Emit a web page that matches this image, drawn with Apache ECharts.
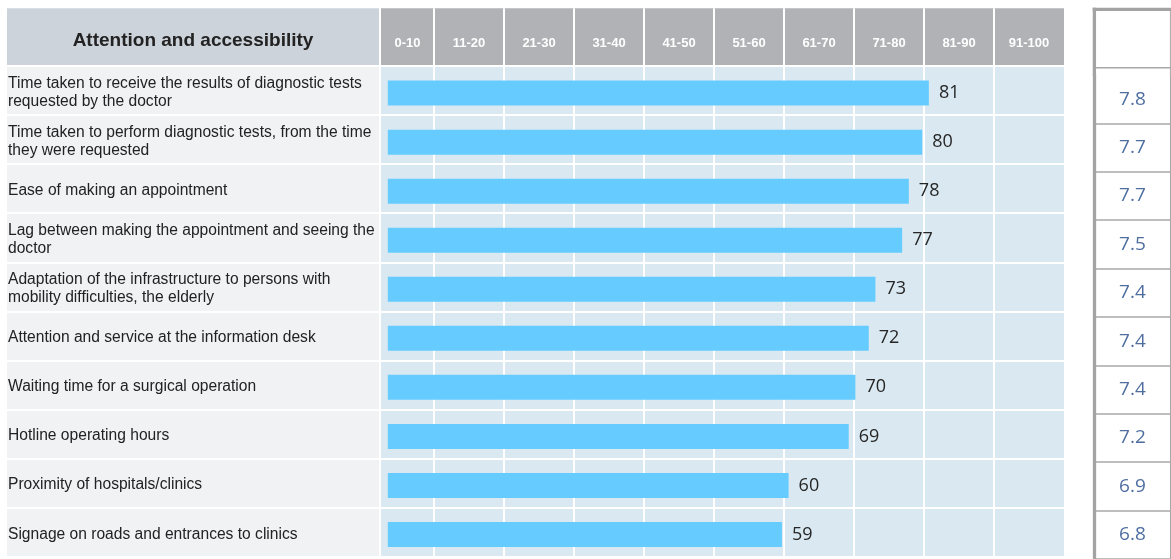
<!DOCTYPE html>
<html>
<head>
<meta charset="utf-8">
<script src="https://cdn.jsdelivr.net/npm/echarts@6/dist/echarts.min.js"></script>
<style>
  html, body { margin: 0; padding: 0; background: #ffffff; }
  #chart { width: 1171px; height: 559px; }
</style>
</head>
<body>
<div id="chart"></div>
<script>
// Rows of the table, top to bottom
const categories = [
  'Time taken to receive the results of diagnostic tests\nrequested by the doctor',
  'Time taken to perform diagnostic tests, from the time\nthey were requested',
  'Ease of making an appointment',
  'Lag between making the appointment and seeing the\ndoctor',
  'Adaptation of the infrastructure to persons with\nmobility difficulties, the elderly',
  'Attention and service at the information desk',
  'Waiting time for a surgical operation',
  'Hotline operating hours',
  'Proximity of hospitals/clinics',
  'Signage on roads and entrances to clinics'
];
// Satisfaction index (0-100) per row
const satisfaction = [81, 80, 78, 77, 73, 72, 70, 69, 60, 59];
// Average score (0-10) per row
const scores = [7.8, 7.7, 7.7, 7.5, 7.4, 7.4, 7.4, 7.2, 6.9, 6.8];
// Column headers of the scale
const rangeLabels = ['0-10', '11-20', '21-30', '31-40', '41-50', '51-60', '61-70', '71-80', '81-90', '91-100'];
const sectionTitle = 'Attention and accessibility';

// ---- layout ----
const TABLE_LEFT = 381, TABLE_RIGHT = 1064, COLUMN_PX = 70;
const HEAD_TOP = 8.3, HEAD_H = 57;
const BODY_TOP = 66, BODY_H = 490.8;
const LABEL_LEFT = 7, LABEL_W = 372, LABEL_SHIFT = 2;
const TABLE_W = TABLE_RIGHT - TABLE_LEFT;
// the scale columns are 70px per ten units, the leftmost one is cut by the label column
const colMin = 100 - TABLE_W / COLUMN_PX * 10;
const upperBounds = rangeLabels.map(l => parseInt(l.split('-')[1], 10));
const colBounds = upperBounds.slice(0, -1);
const colMids = upperBounds.map((hi, i) => (Math.max(hi - 10, colMin) + hi) / 2);
const labelForValue = v => rangeLabels[Math.min(rangeLabels.length - 1, Math.floor(v / 10))];

const SCORE_LEFT = 1094.4, SCORE_W = 76, SCORE_TOP = 75, SCORE_H = 490;
const frameColor = '#a3a3a3';
const lineColor = '#a8a8a8';

const whiteLine = { show: true, interval: 0, lineStyle: { color: '#ffffff', width: 2 } };
const hidden = { show: false };

const chart = echarts.init(document.getElementById('chart'), null, { renderer: 'canvas' });

chart.setOption({
  animation: false,
  backgroundColor: '#ffffff',
  textStyle: { fontFamily: 'Liberation Sans' },
  grid: [
    // 0: scale header
    { left: TABLE_LEFT, top: HEAD_TOP, width: TABLE_W, height: HEAD_H, show: true, backgroundColor: '#b1b2b6', borderWidth: 0 },
    // 1: scale body cells
    { left: TABLE_LEFT, top: BODY_TOP, width: TABLE_W, height: BODY_H, show: true, backgroundColor: '#dae9f1', borderWidth: 0 },
    // 2: row label column (cells)
    { left: LABEL_LEFT, top: BODY_TOP, width: LABEL_W, height: BODY_H, show: true, backgroundColor: '#f1f2f4', borderWidth: 0 },
    // 3: bars
    { left: 387.8, top: 68.6, width: 668, height: 497.2 },
    // 4: score column
    { left: SCORE_LEFT, top: SCORE_TOP, width: SCORE_W, height: SCORE_H, show: true, backgroundColor: '#ffffff', borderWidth: 0 },
    // 5: row label texts (sit a little below the cell middle)
    { left: LABEL_LEFT, top: BODY_TOP + LABEL_SHIFT, width: LABEL_W, height: BODY_H }
  ],
  xAxis: [
    {
      gridIndex: 0, type: 'value', min: colMin, max: 100, position: 'bottom',
      axisLine: hidden,
      axisTick: { show: false, customValues: colBounds },
      splitLine: whiteLine,
      axisLabel: {
        customValues: colMids, inside: true, margin: 22, verticalAlign: 'middle',
        formatter: v => labelForValue(v),
        color: '#ffffff', fontWeight: 'bold', fontSize: 13, fontFamily: 'Liberation Sans'
      }
    },
    {
      gridIndex: 1, type: 'value', min: colMin, max: 100,
      axisLine: hidden,
      axisTick: { show: false, customValues: colBounds },
      splitLine: whiteLine,
      axisLabel: hidden
    },
    { gridIndex: 2, type: 'value', show: false },
    { gridIndex: 3, type: 'value', min: 0, max: 100, show: false },
    { gridIndex: 4, type: 'value', min: 0, max: 1, show: false },
    { gridIndex: 5, type: 'value', show: false }
  ],
  yAxis: [
    { gridIndex: 0, type: 'category', data: [''], show: false },
    {
      gridIndex: 1, type: 'category', data: categories, inverse: true,
      axisLine: hidden, axisTick: hidden, axisLabel: { show: false, interval: 0 },
      splitLine: whiteLine
    },
    {
      gridIndex: 2, type: 'category', data: categories, inverse: true,
      axisLine: hidden, axisTick: hidden, axisLabel: { show: false, interval: 0 },
      splitLine: whiteLine
    },
    { gridIndex: 3, type: 'category', data: categories, inverse: true, show: false },
    {
      gridIndex: 4, type: 'category', data: categories, inverse: true,
      axisLine: { show: true, lineStyle: { color: frameColor, width: 3.3 } },
      axisTick: hidden, axisLabel: { show: false, interval: 0 },
      splitLine: { show: true, interval: (index) => index !== 0, lineStyle: { color: lineColor, width: 1.5 } }
    },
    {
      gridIndex: 4, type: 'category', data: categories, inverse: true, position: 'right',
      axisLine: { show: true, lineStyle: { color: lineColor, width: 1 } },
      axisTick: hidden, axisLabel: hidden, splitLine: hidden
    },
    {
      gridIndex: 5, type: 'category', data: categories, inverse: true,
      axisLine: hidden, axisTick: hidden, splitLine: hidden,
      axisLabel: {
        interval: 0, inside: true, margin: 1,
        color: '#222222', fontSize: 15.6, lineHeight: 17.6,
        fontFamily: 'Liberation Sans'
      }
    }
  ],
  series: [
    {
      type: 'bar', xAxisIndex: 3, yAxisIndex: 3,
      data: satisfaction, barWidth: 25,
      itemStyle: { color: '#66ccff' },
      label: {
        show: true, position: 'right', distance: 10,
        color: '#262626', fontSize: 18, fontFamily: 'Open Sans'
      }
    },
    {
      type: 'scatter', xAxisIndex: 4, yAxisIndex: 4,
      data: scores.map((s, i) => [0.5, i, s]),
      symbol: 'rect', symbolSize: 2,
      itemStyle: { color: 'rgba(0,0,0,0)' },
      label: {
        show: true, position: 'inside',
        formatter: p => p.value[2].toFixed(1),
        color: '#234a88', fontSize: 19, fontFamily: 'Open Sans'
      }
    }
  ],
  graphic: [
    // header cell of the label column
    { type: 'rect', shape: { x: LABEL_LEFT, y: HEAD_TOP, width: LABEL_W, height: HEAD_H }, style: { fill: '#cdd3da' } },
    {
      type: 'text', x: LABEL_LEFT + LABEL_W / 2, y: 40.5,
      style: { text: sectionTitle, font: 'bold 19px "Liberation Sans"', fill: '#222222', align: 'center', verticalAlign: 'middle' }
    },
    // empty header cell of the score column
    { type: 'line', shape: { x1: SCORE_LEFT, y1: 7.7, x2: SCORE_LEFT, y2: SCORE_TOP + 1 }, style: { stroke: frameColor, lineWidth: 3.3 } },
    { type: 'line', shape: { x1: SCORE_LEFT - 1.7, y1: 9.35, x2: 1171, y2: 9.35 }, style: { stroke: frameColor, lineWidth: 3.3 } },
    { type: 'line', shape: { x1: SCORE_LEFT + 1.6, y1: 67.7, x2: 1171, y2: 67.7 }, style: { stroke: lineColor, lineWidth: 1.5 } },
    { type: 'line', shape: { x1: SCORE_LEFT + SCORE_W, y1: 11, x2: SCORE_LEFT + SCORE_W, y2: SCORE_TOP + 1 }, style: { stroke: lineColor, lineWidth: 1 } }
  ]
});
</script>
</body>
</html>
